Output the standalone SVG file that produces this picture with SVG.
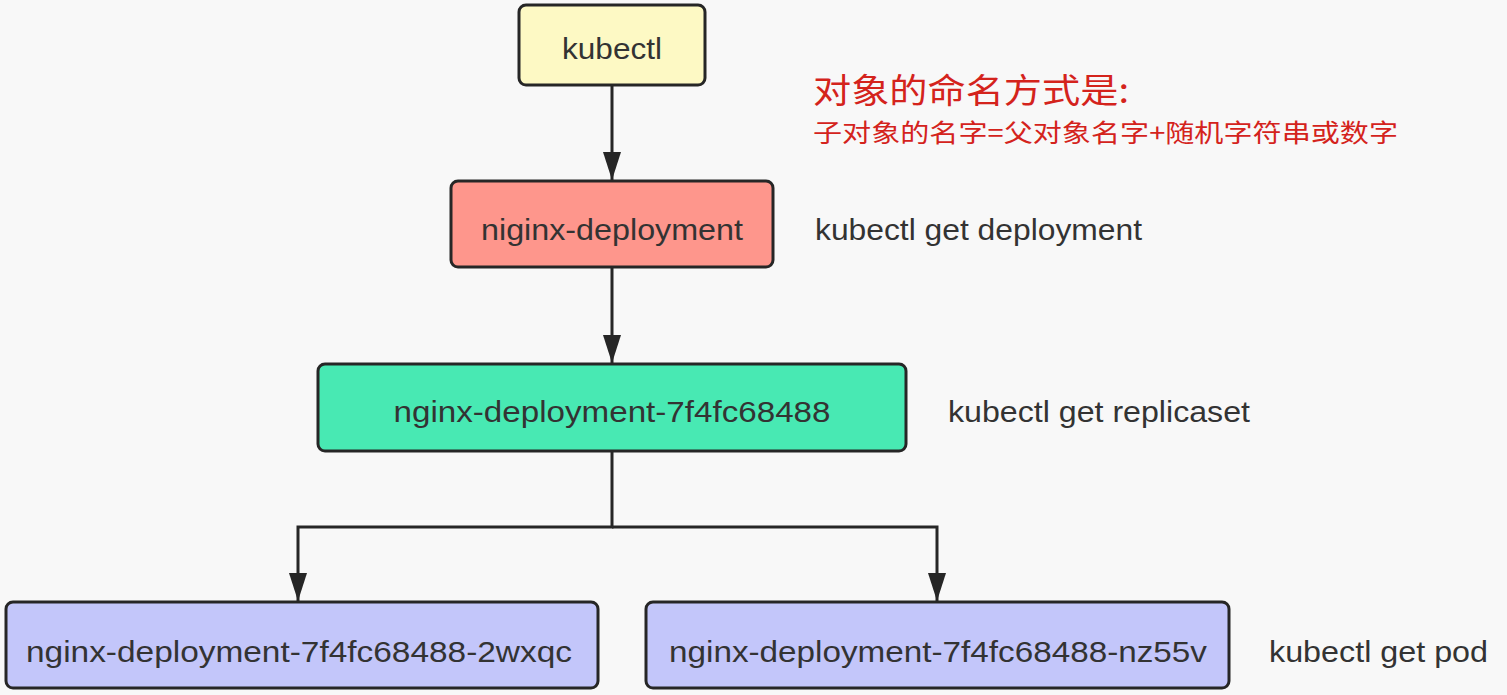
<svg xmlns="http://www.w3.org/2000/svg" width="1507" height="695" viewBox="0 0 1507 695">
<defs>
<style>
.box{stroke:#262626;stroke-width:3}
.t{font-family:"Liberation Sans","Noto Sans CJK SC",sans-serif;font-size:29px;fill:#333;text-anchor:middle}
.lbl{font-family:"Liberation Sans","Noto Sans CJK SC",sans-serif;font-size:29px;fill:#333}
.red{font-family:"Noto Sans CJK SC",sans-serif;fill:#d4231c}
.edge{fill:none;stroke:#262626;stroke-width:3}
</style>
<marker id="ah" viewBox="0 0 28 18" refX="28" refY="9" markerWidth="28" markerHeight="18" markerUnits="userSpaceOnUse" orient="auto">
<path d="M0,0 L28,9 L0,18 Z" fill="#262626"/>
</marker>
</defs>
<rect width="1507" height="695" fill="#f8f8f8"/>
<g id="connectors">
<path class="edge" d="M612,85 V180" marker-end="url(#ah)"/>
<path class="edge" d="M612,267 V363" marker-end="url(#ah)"/>
<path class="edge" d="M612,451 V527 H298 V601" marker-end="url(#ah)"/>
<path class="edge" d="M612,527 H937 V601" marker-end="url(#ah)"/>
</g>
<g id="kubectl">
<rect class="box" x="519" y="5" width="186" height="80" rx="7" fill="#fdf9c4"/>
<text class="t" x="612" y="59" textLength="100" lengthAdjust="spacingAndGlyphs">kubectl</text>
</g>
<g id="deployment">
<rect class="box" x="451" y="181" width="322" height="86" rx="7" fill="#fe968c"/>
<text class="t" x="612" y="240" textLength="262" lengthAdjust="spacingAndGlyphs">niginx-deployment</text>
</g>
<g id="replicaset">
<rect class="box" x="318" y="364" width="588" height="87" rx="7" fill="#48e9b3"/>
<text class="t" x="612" y="422" textLength="437" lengthAdjust="spacingAndGlyphs">nginx-deployment-7f4fc68488</text>
</g>
<g id="pod1">
<rect class="box" x="6" y="602" width="592" height="86" rx="7" fill="#c3c6fa"/>
<text class="t" x="299" y="662" textLength="546" lengthAdjust="spacingAndGlyphs">nginx-deployment-7f4fc68488-2wxqc</text>
</g>
<g id="pod2">
<rect class="box" x="646" y="602" width="583" height="86" rx="7" fill="#c3c6fa"/>
<text class="t" x="938" y="662" textLength="538" lengthAdjust="spacingAndGlyphs">nginx-deployment-7f4fc68488-nz55v</text>
</g>
<g id="labels">
<text class="lbl" x="815" y="240" textLength="327" lengthAdjust="spacingAndGlyphs">kubectl get deployment</text>
<text class="lbl" x="948" y="422" textLength="302" lengthAdjust="spacingAndGlyphs">kubectl get replicaset</text>
<text class="lbl" x="1269" y="662" textLength="219" lengthAdjust="spacingAndGlyphs">kubectl get pod</text>
</g>
<g id="note">
<text class="red" x="813" y="103" font-size="34" textLength="316" lengthAdjust="spacingAndGlyphs">对象的命名方式是:</text>
<text class="red" x="813" y="142" font-size="25" textLength="585" lengthAdjust="spacingAndGlyphs">子对象的名字=父对象名字+随机字符串或数字</text>
</g>
</svg>
